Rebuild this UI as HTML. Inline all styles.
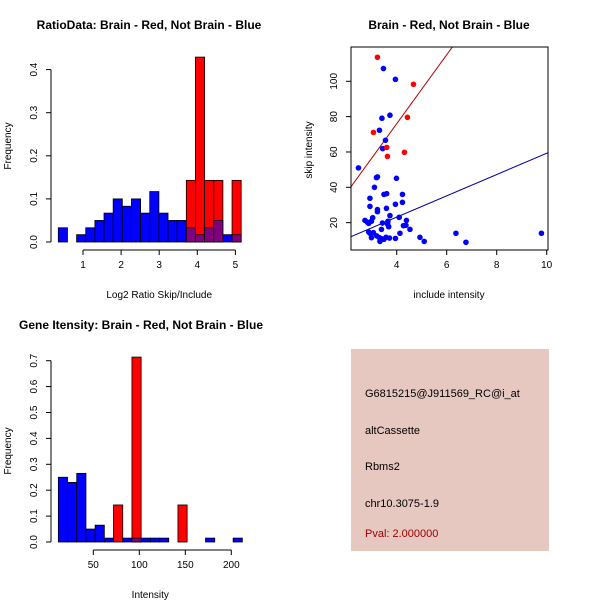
<!DOCTYPE html>
<html><head><meta charset="utf-8"><style>
body{margin:0;background:#fff;}
svg{display:block;font-family:"Liberation Sans",sans-serif;}
.t{font-size:12px;font-weight:bold;}
.k{font-size:10px;}
</style></head><body>
<svg id="c" width="600" height="600">
<rect x="0" y="0" width="600" height="600" fill="#fff"/>
<g id="p1"></g>
<g id="p2"></g>
<g id="p3"></g>
<g>
<rect x="351" y="349" width="198" height="202" fill="#e6c8c0"/>
<text x="365" y="397" font-size="11">G6815215@J911569_RC@i_at</text>
<text x="365" y="434" font-size="11">altCassette</text>
<text x="365" y="470" font-size="11">Rbms2</text>
<text x="365" y="507" font-size="11">chr10.3075-1.9</text>
<text x="365" y="537" font-size="11" fill="#a00000">Pval: 2.000000</text>
</g>
</svg>
<script>
const ratioBlue=[0.033,0,0.017,0.033,0.05,0.067,0.1,0.083,0.1,0.067,0.117,0.067,0.05,0.05,0.033,0.017,0.033,0.05,0.017,0.017];
const ratioRed=[0,0,0,0,0,0,0,0,0,0,0,0,0,0,0.143,0.429,0.143,0.143,0,0.143];
const ratioStart=0.352, ratioWidth=0.24;
const ratioXTicks=[1,2,3,4,5];
const ratioYTicks=[0,0.1,0.2,0.3,0.4];
const intBlue=[0.25,0.23,0.265,0.05,0.065,0.015,0,0.015,0.015,0.015,0.015,0.015,0,0,0,0,0.015,0,0,0.015];
const intRed=[0,0,0,0,0,0,0.143,0,0.714,0,0,0,0,0.143,0,0,0,0,0,0];
const intStart=12, intWidth=10;
const intXTicks=[50,100,150,200];
const intYTicks=[0,0.1,0.2,0.3,0.4,0.5,0.6,0.7];
const redX=[3.23,4.67,3.07,4.43,3.60,3.63,4.31];
const redY=[113.6,98.3,71.1,79.6,62.6,57.5,59.8];
const blueX=[3.47,3.95,3.73,3.41,3.31,3.55,3.44,2.47,3.23,3.19,3.99,3.11,3.49,3.60,4.23,2.93,2.93,3.95,4.23,3.23,3.23,3.59,3.73,4.10,3.04,3.43,3.65,2.73,2.83,2.88,2.99,4.39,3.64,3.68,4.27,4.37,4.53,3.39,2.88,2.93,3.07,3.20,3.31,3.40,3.49,3.57,3.71,3.95,4.13,2.99,3.33,4.93,5.10,6.37,6.77,9.79];
const blueY=[107.2,101.1,80.8,79.1,72.3,66.6,61.9,51.0,45.9,45.5,45.1,40.0,36.0,36.4,36.0,33.8,29.2,30.4,31.5,27.4,26.2,28.1,24.0,23.0,22.8,19.8,20.8,21.3,20.2,19.6,20.8,21.3,19.1,17.7,18.3,18.5,16.2,16.2,14.7,14.0,14.3,12.5,11.5,10.9,10.6,11.7,11.3,11.1,14.0,11.5,9.4,11.7,9.4,14.0,8.9,14.0];
const redFit=[19.5,-2.0], blueFit=[6.03,-1.0];
const scXTicks=[4,6,8,10], scYTicks=[20,40,60,80,100];

const NS='http://www.w3.org/2000/svg';
function mk(p,tag,a,txt){const e=document.createElementNS(NS,tag);for(const k in a)e.setAttribute(k,a[k]);if(txt!==undefined)e.textContent=txt;p.appendChild(e);return e;}

function hist(g,o){
  const X=v=>o.x0+(v-o.xv0)*o.xs, Y=v=>o.y0-v*o.ys;
  mk(g,'text',{x:o.tx,y:o.ty,'text-anchor':'middle',class:'t'},o.title);
  for(let i=0;i<o.blue.length;i++){
    const a=X(o.start+i*o.w), b=X(o.start+(i+1)*o.w);
    const bv=o.blue[i], rv=o.red[i];
    if(rv>0){const r=mk(g,'rect',{x:a,y:Y(rv),width:b-a,height:Y(0)-Y(rv),fill:'#ff0000',stroke:'#000','stroke-width':0.8});
      
      }
    if(bv>0){const c=rv>0?'#800080':'#0000ff';const r=mk(g,'rect',{x:a,y:Y(bv),width:b-a,height:Y(0)-Y(bv),fill:c,stroke:'#000','stroke-width':0.8});
      
      }
  }
  const ax=o.axY;
  mk(g,'line',{x1:X(o.xt[0]),x2:X(o.xt[o.xt.length-1]),y1:ax,y2:ax,stroke:'#000'});
  o.xt.forEach(t=>{mk(g,'line',{x1:X(t),x2:X(t),y1:ax,y2:ax+5,stroke:'#000'});
    const l=mk(g,'text',{x:X(t),y:ax+18,'text-anchor':'middle',class:'k'},t);
    
    });
  const ay=o.axX, yt=o.yt;
  mk(g,'line',{x1:ay,x2:ay,y1:Y(yt[0]),y2:Y(yt[yt.length-1]),stroke:'#000'});
  yt.forEach(t=>{mk(g,'line',{x1:ay-5,x2:ay,y1:Y(t),y2:Y(t),stroke:'#000'});
    const l=mk(g,'text',{x:ay-14,y:Y(t),'text-anchor':'middle',class:'k',transform:`rotate(-90 ${ay-14} ${Y(t)})`},t.toFixed(1));
    
    });
  const xl=mk(g,'text',{x:(X(o.xt[0])+X(o.xt[o.xt.length-1]))/2+ (o.xlOff||0),y:o.xlY,'text-anchor':'middle',class:'k'},o.xlab);
  
  
  const yl=mk(g,'text',{x:11,y:o.ylY,'text-anchor':'middle',class:'k',transform:`rotate(-90 11 ${o.ylY})`},'Frequency');
  
  
}
hist(document.getElementById('p1'),{title:'RatioData: Brain - Red, Not Brain - Blue',tx:149,ty:29,
  blue:ratioBlue,red:ratioRed,start:ratioStart,w:ratioWidth,x0:83,xv0:1,xs:38.1,y0:242,ys:431,
  xt:ratioXTicks,yt:ratioYTicks,axY:250,axX:51,xlab:'Log2 Ratio Skip/Include',xlY:298,ylY:146});
hist(document.getElementById('p3'),{title:'Gene Itensity: Brain - Red, Not Brain - Blue',tx:141,ty:329,
  blue:intBlue,red:intRed,start:intStart,w:intWidth,x0:93.3,xv0:50,xs:0.92,y0:542,ys:259,
  xt:intXTicks,yt:intYTicks,axY:550,axX:51,xlab:'Intensity',xlY:598,xlOff:-12,ylY:451});

(function(){
  const g=document.getElementById('p2');
  const X=v=>346.7+(v-2)*25, Y=v=>258-v*1.767;
  mk(g,'text',{x:449,y:29,'text-anchor':'middle',class:'t'},'Brain - Red, Not Brain - Blue');
  const L=351,R=548,T=47,B=250;
  const cp=mk(g,'clipPath',{id:'cl'});mk(cp,'rect',{x:L,y:T,width:R-L,height:B-T});
  [[redFit,'#b00000','red-fit-line'],[blueFit,'#0000a0','blue-fit-line']].forEach(([f,c,n])=>{
    const xa=(L-346.7)/25+2, xb=(R-346.7)/25+2;
    const l=mk(g,'line',{x1:X(xa),y1:Y(f[0]*xa+f[1]),x2:X(xb),y2:Y(f[0]*xb+f[1]),stroke:c,'stroke-width':1,'clip-path':'url(#cl)'});
    
    });
  blueX.forEach((x,i)=>{const p=mk(g,'circle',{cx:X(x),cy:Y(blueY[i]),r:2.8,fill:'#0000ff'});
    
    });
  redX.forEach((x,i)=>{const p=mk(g,'circle',{cx:X(x),cy:Y(redY[i]),r:2.8,fill:'#ff0000'});
    
    });
  mk(g,'rect',{x:L,y:T,width:R-L,height:B-T,fill:'none',stroke:'#000'});
  scXTicks.forEach(t=>{mk(g,'line',{x1:X(t),x2:X(t),y1:B,y2:B+5,stroke:'#000'});
    const l=mk(g,'text',{x:X(t),y:B+18,'text-anchor':'middle',class:'k'},t);
    
    });
  scYTicks.forEach(t=>{mk(g,'line',{x1:L-5,x2:L,y1:Y(t),y2:Y(t),stroke:'#000'});
    const l=mk(g,'text',{x:L-14,y:Y(t),'text-anchor':'middle',class:'k',transform:`rotate(-90 ${L-14} ${Y(t)})`},t);
    
    });
  const xl=mk(g,'text',{x:449,y:298,'text-anchor':'middle',class:'k'},'include intensity');
  
  
  const yl=mk(g,'text',{x:312,y:150,'text-anchor':'middle',class:'k',transform:'rotate(-90 312 150)'},'skip intensity');
  
  
})();
</script>
</body></html>
